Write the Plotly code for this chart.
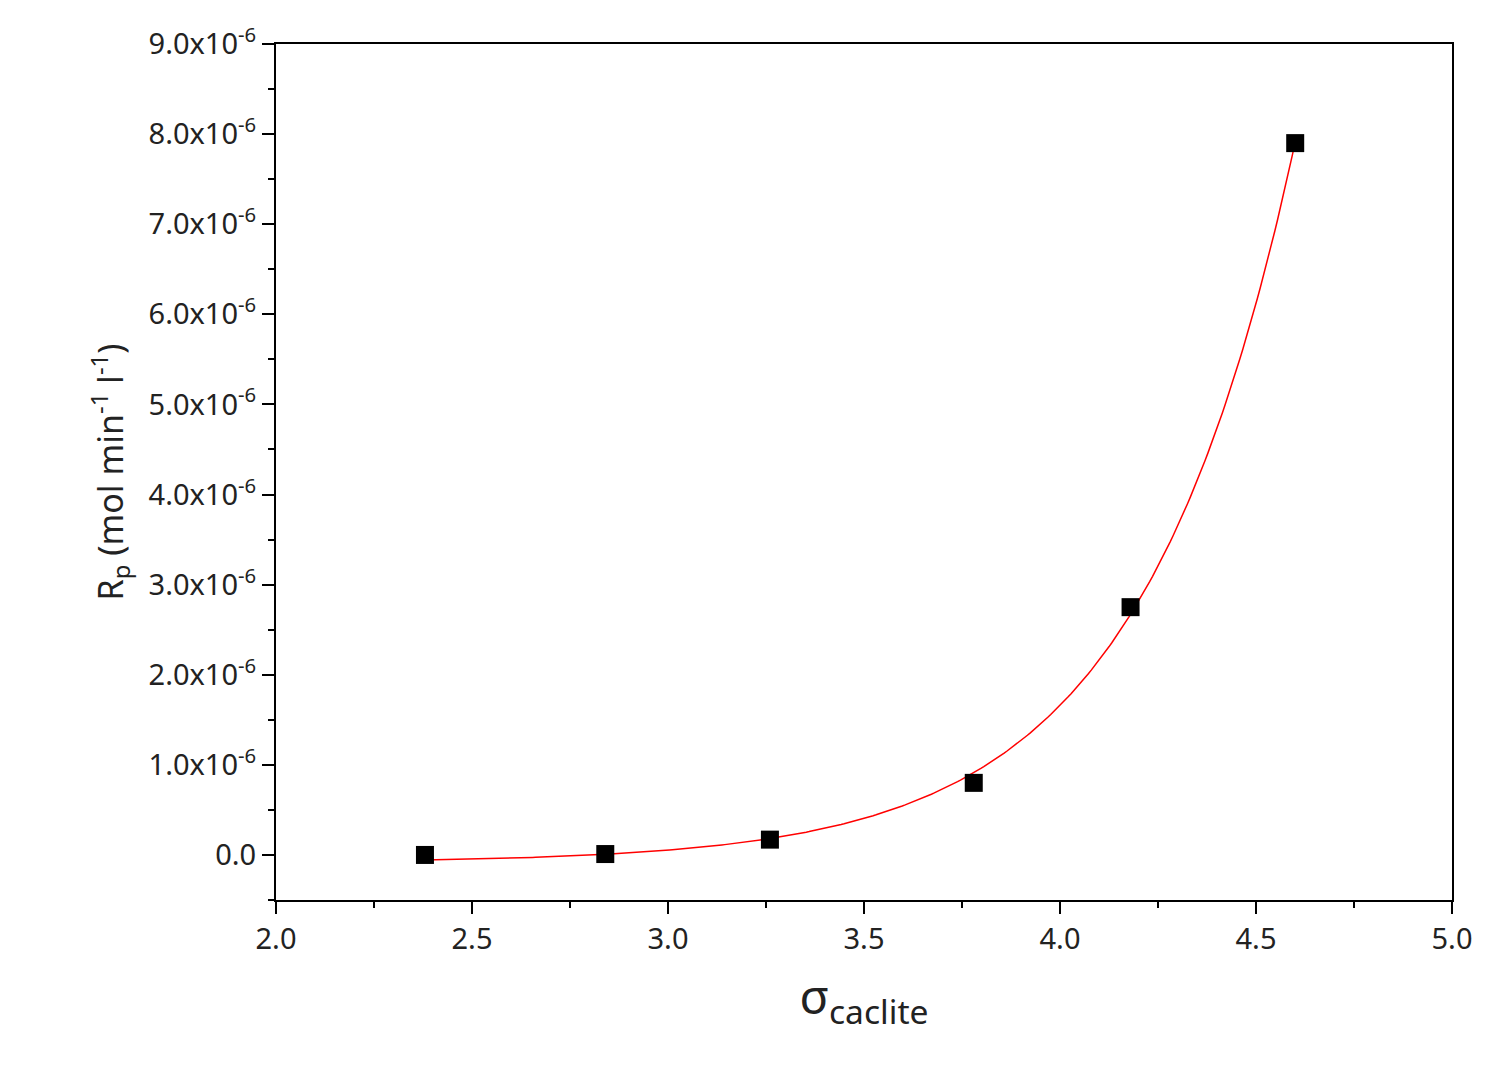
import numpy as np
import plotly.graph_objects as go

sigma = [2.38, 2.84, 3.26, 3.78, 4.18, 4.60]
rp = [0.0, 0.01e-6, 0.17e-6, 0.80e-6, 2.75e-6, 7.90e-6]

# exponential fit y = a*exp(b x) + c (grid search on b, least squares for a, c)
xs = np.array(sigma); ys = np.array(rp)
best = None
for b in np.linspace(1.0, 5.0, 2001):
    A = np.vstack([np.exp(b * xs), np.ones_like(xs)]).T
    coef, res, *_ = np.linalg.lstsq(A, ys, rcond=None)
    err = np.sum((A @ coef - ys) ** 2)
    if best is None or err < best[0]:
        best = (err, b, coef)
_, bb, (aa, cc) = best
xf = np.linspace(min(sigma), max(sigma), 300)
yf = aa * np.exp(bb * xf) + cc

yticks = [i * 1e-6 for i in range(10)]
ylabels = ["0.0"] + [f"{i}.0x10<sup>-6</sup>" for i in range(1, 10)]

fig = go.Figure()
fig.add_trace(go.Scatter(x=xf, y=yf, mode="lines", line=dict(color="red", width=1.5), showlegend=False))
fig.add_trace(go.Scatter(x=sigma, y=rp, mode="markers",
                         marker=dict(symbol="square", size=18, color="black"), showlegend=False))
font = "Noto Sans"
fig.update_layout(
    width=1492, height=1078, margin=dict(l=268, r=48, t=30, b=186),
    plot_bgcolor="white", paper_bgcolor="white",
    font=dict(family=font, size=29, color="#222"),
    xaxis=dict(range=[2.0, 5.0], tickvals=[2.0, 2.5, 3.0, 3.5, 4.0, 4.5, 5.0],
               ticktext=["2.0", "2.5", "3.0", "3.5", "4.0", "4.5", "5.0"],
               showline=True, linecolor="black", linewidth=2, mirror=True, showgrid=False,
               zeroline=False, ticks="outside", ticklen=12, tickwidth=2, tickcolor="black",
               minor=dict(dtick=0.25, ticks="outside", ticklen=6, tickwidth=2, tickcolor="black"),
               title=dict(text="σ<sub>caclite</sub>", font=dict(size=48), standoff=25)),
    yaxis=dict(range=[-0.5e-6, 9.0e-6], tickvals=yticks, ticktext=ylabels,
               showline=True, linecolor="black", linewidth=2, mirror=True, showgrid=False,
               zeroline=False, ticks="outside", ticklen=12, tickwidth=2, tickcolor="black",
               minor=dict(dtick=0.5e-6, tick0=0, ticks="outside", ticklen=6, tickwidth=2, tickcolor="black"),
               title=dict(text="R<sub>p</sub> (mol min<sup>-1</sup> l<sup>-1</sup>)", font=dict(size=34), standoff=15)),
)
fig.write_html("out.html")
